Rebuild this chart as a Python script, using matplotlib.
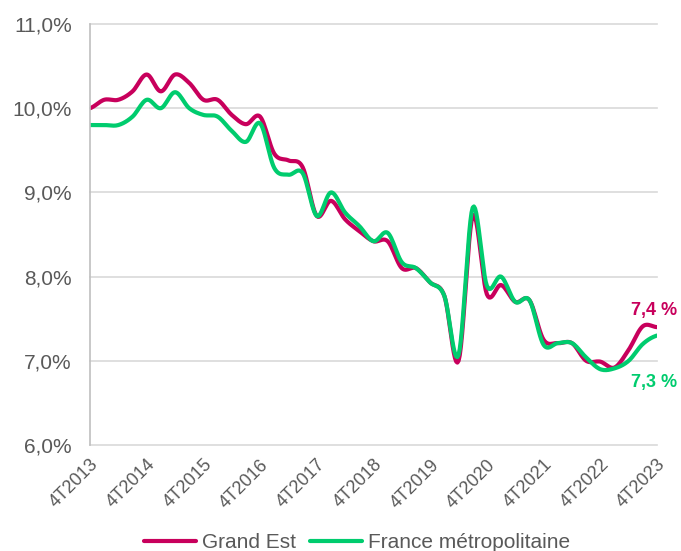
import numpy as np
import matplotlib.pyplot as plt

plt.rcParams['font.family'] = ['Liberation Sans', 'DejaVu Sans']

# Taux de chômage trimestriel (%), 4T2013 -> 4T2023
grand_est = [10.0, 10.1, 10.1, 10.2, 10.4, 10.2, 10.4, 10.3, 10.1, 10.1,
             9.92, 9.81, 9.9, 9.46, 9.38, 9.3, 8.72, 8.9, 8.68, 8.54,
             8.42, 8.42, 8.1, 8.1, 7.93, 7.77, 7.0, 8.72, 7.79, 7.9,
             7.7, 7.72, 7.25, 7.21, 7.21, 7.0, 6.99, 6.92, 7.13, 7.41, 7.4]
france = [9.8, 9.8, 9.8, 9.9, 10.1, 10.0, 10.19, 10.0, 9.92, 9.9,
          9.73, 9.6, 9.82, 9.29, 9.21, 9.23, 8.72, 9.0, 8.76, 8.6,
          8.42, 8.52, 8.17, 8.1, 7.93, 7.77, 7.07, 8.82, 7.89, 8.0,
          7.7, 7.72, 7.19, 7.21, 7.21, 7.04, 6.9, 6.91, 7.0, 7.2, 7.3]
tick_labels = ['4T2013', '4T2014', '4T2015', '4T2016', '4T2017', '4T2018',
               '4T2019', '4T2020', '4T2021', '4T2022', '4T2023']

rouge = '#C8005C'
vert = '#00CC6E'
gris = '#595959'


def lisser(y, n=12):
    # courbe lissée type Excel (Catmull-Rom)
    y = np.asarray(y, dtype=float)
    p = np.concatenate([[y[0]], y, [y[-1]]])
    xs, ys = [], []
    t = np.linspace(0, 1, n, endpoint=False)
    for i in range(len(y) - 1):
        p0, p1, p2, p3 = p[i], p[i + 1], p[i + 2], p[i + 3]
        yy = 0.5 * ((2 * p1) + (-p0 + p2) * t + (2 * p0 - 5 * p1 + 4 * p2 - p3) * t ** 2
                    + (-p0 + 3 * p1 - 3 * p2 + p3) * t ** 3)
        xs.extend(i + t)
        ys.extend(yy)
    xs.append(len(y) - 1)
    ys.append(y[-1])
    return np.array(xs), np.array(ys)


fig = plt.figure(figsize=(6.81, 5.51), dpi=100)
ax = fig.add_axes([90 / 681, 1 - 445 / 551, 567 / 681, 421 / 551])

x1, y1 = lisser(grand_est)
x2, y2 = lisser(france)
ax.plot(x1, y1, color=rouge, lw=3, label='Grand Est', solid_capstyle='round')
ax.plot(x2, y2, color=vert, lw=3, label='France métropolitaine', solid_capstyle='round')

ax.set_xlim(0, len(grand_est) - 1)
ax.set_ylim(6, 11)
yt = np.arange(6, 11.01, 1)
ax.set_yticks(yt)
ax.set_yticklabels([f'{v:.1f}%'.replace('.', ',') for v in yt])
ax.set_xticks(np.arange(0, len(grand_est), 4))
ax.set_xticklabels(tick_labels, rotation=45, ha='right', va='top', rotation_mode='anchor')

for v in yt:
    ax.axhline(v, color='#D9D9D9', lw=1.2, zorder=0, clip_on=False)
for s in ['top', 'right', 'bottom']:
    ax.spines[s].set_visible(False)
ax.spines['left'].set_color('#BFBFBF')
ax.spines['left'].set_linewidth(1.2)
ax.tick_params(axis='both', length=0, colors=gris)
ax.tick_params(axis='y', pad=13, labelsize=15)
ax.tick_params(axis='x', pad=8, labelsize=13)

# étiquettes de fin de série
fig.text(677 / 681, 1 - 311 / 551, '7,4 %', color=rouge, fontsize=13, fontweight='bold',
         ha='right', va='center')
fig.text(677 / 681, 1 - 383 / 551, '7,3 %', color=vert, fontsize=13, fontweight='bold',
         ha='right', va='center')

fig.legend(loc='center', bbox_to_anchor=(357 / 681, 1 - 543 / 551), ncol=2, frameon=False,
           fontsize=15, handlelength=2.5, columnspacing=0.7, handletextpad=0.25,
           labelcolor=gris, borderpad=0, borderaxespad=0)

fig.savefig('out.png', dpi=100)
